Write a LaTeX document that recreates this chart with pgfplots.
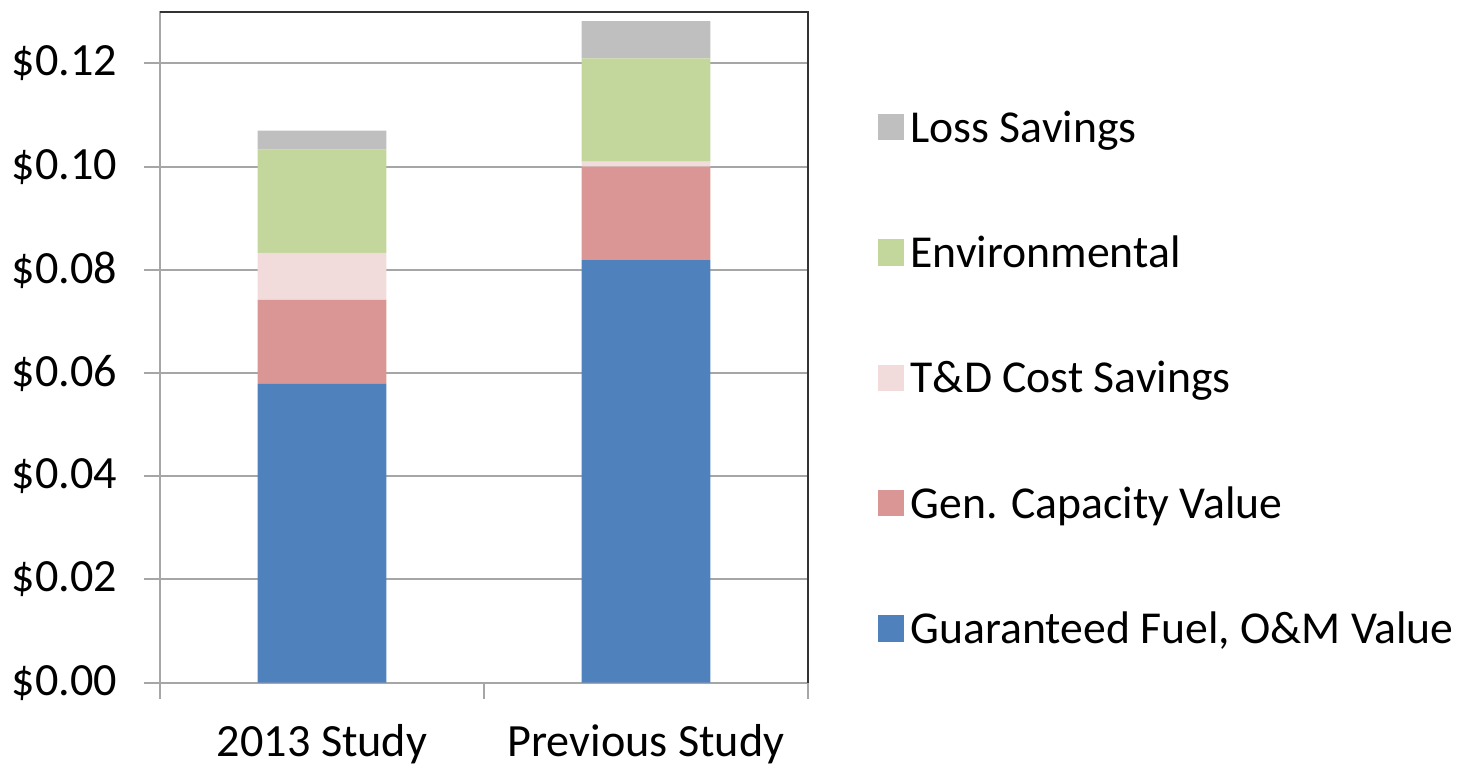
\documentclass[border=0pt]{standalone}
\usepackage{fontspec}
\setmainfont{Carlito}
\usepackage{pgfplots}
\pgfplotsset{compat=1.18}
\usetikzlibrary{calc}
\definecolor{cBlue}{HTML}{4F81BD}
\definecolor{cRed}{HTML}{D99694}
\definecolor{cPink}{HTML}{F2DCDB}
\definecolor{cGreen}{HTML}{C3D69B}
\definecolor{cGray}{HTML}{BFBFBF}
\definecolor{cGrid}{HTML}{A6A6A6}
\begin{document}
\begin{tikzpicture}
\begin{axis}[name=ax, scale only axis, width=196.4pt, height=203.3pt,
  ybar stacked, bar width=39pt,
  xmin=-0.5, xmax=1.5, ymin=0, ymax=0.13,
  xtick={-0.5,0.5,1.5}, xticklabels={},
  extra x ticks={0,1}, extra x tick labels={2013 Study, Previous Study},
  extra x tick style={major tick length=0pt, grid=none},
  xticklabel style={yshift=-9pt},
  yticklabel style={xshift=-4.5pt},
  ytick={0,0.02,0.04,0.06,0.08,0.1,0.12},
  yticklabel={\$\pgfmathprintnumber[fixed,fixed zerofill,precision=2]{\tick}},
  /pgf/number format/assume math mode=true,
  ymajorgrids, grid style={cGrid, line width=0.6pt},
  axis line style={cGrid, line width=0.6pt},
  tick style={cGrid, line width=0.6pt},
  tick align=outside, major tick length=5pt,
  xtick pos=bottom, ytick pos=left,
  ticklabel style={font=\fontsize{14}{17}\selectfont},
  reverse legend,
  legend cell align=left,
  legend style={draw=none, fill=none, at={(1,0.5)}, anchor=west, xshift=20.9pt, yshift=-9.8pt,
    inner sep=0pt, row sep=22.9pt, font=\fontsize{13.85}{17}\selectfont},
  legend image code/.code={\fill[#1] (0pt,-3.5pt) rectangle (8pt,4.5pt);},
]
\addplot[fill=cBlue, draw=none] coordinates {(0,0.0579) (1,0.0819)};
\addlegendentry{Guaranteed Fuel, O\&M Value}
\addplot[fill=cRed, draw=none] coordinates {(0,0.0163) (1,0.0181)};
\addlegendentry{Gen. Capacity Value}
\addplot[fill=cPink, draw=none] coordinates {(0,0.0091) (1,0.0010)};
\addlegendentry{T\&D Cost Savings}
\addplot[fill=cGreen, draw=none] coordinates {(0,0.0200) (1,0.0200)};
\addlegendentry{Environmental}
\addplot[fill=cGray, draw=none] coordinates {(0,0.0037) (1,0.0072)};
\addlegendentry{Loss Savings}
\end{axis}
\draw[black!80, line width=0.6pt] (ax.north west) -- (ax.north east) -- (ax.south east);
\pgfresetboundingbox
\path ($(ax.south west)+(-48.5pt,-24.5pt)$) rectangle ($(ax.north east)+(196.7pt,3.6pt)$);
\end{tikzpicture}
\end{document}
